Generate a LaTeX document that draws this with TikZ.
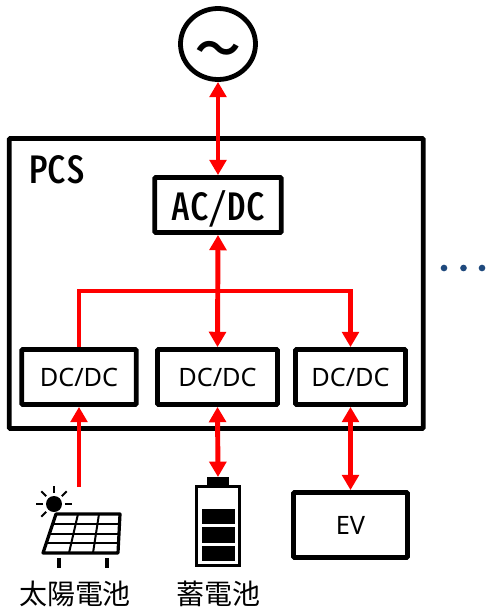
\documentclass[tikz,border=0pt]{standalone}
\usepackage{fontspec}
\setmainfont{Noto Sans}
\newfontfamily\cjkfont{Noto Sans CJK JP}
\newfontfamily\tildefont{Noto Sans CJK JP Bold}
\newfontfamily\gothfont[RawFeature=+hwid]{Noto Sans CJK JP Medium}
\usetikzlibrary{arrows.meta,shapes.geometric}
\definecolor{dotblue}{RGB}{31,73,125}
\tikzset{
  unitbox/.style={draw,line width=3.6pt,rounded corners=.8pt,inner sep=0pt,minimum height=41.25pt},
  redline/.style={draw=red,line width=3.7pt},
  redarrow/.style={redline,{Triangle[width=12.5pt,length=11.5pt]}-{Triangle[width=12.5pt,length=11.5pt]}},
  redtip/.style={redline,-{Triangle[width=12.5pt,length=11.5pt]}}
}
\begin{document}
\begin{tikzpicture}
  [x=.75pt,y=-.75pt]
  \useasboundingbox (0,0) rectangle (488,607);
  \node[unitbox,minimum width=310.5pt,minimum height=217.5pt] (pcs) at (216.3,283.5) {};
  \node[font=\gothfont\fontsize{28}{30}\selectfont] (pcslabel) at (57,170) {PCS};
  \node[draw,ellipse,line width=3.6pt,minimum width=56.25pt,minimum height=53.25pt,inner sep=0pt,font=\tildefont\fontsize{34}{36}\selectfont] (grid) at (218,44) {\raisebox{-16pt}[0pt][0pt]{～}};
  \node[unitbox,minimum width=95pt,font=\gothfont\fontsize{28}{30}\selectfont] (acdc) at (218,205) {\raisebox{-11.5pt}[0pt][0pt]{AC/DC}};
  \node[unitbox,minimum width=86pt,font=\fontsize{19}{22}\selectfont] (dc1) at (79,377) {DC/DC};
  \node[unitbox,minimum width=90pt,font=\fontsize{19}{22}\selectfont] (dc2) at (217.5,377) {DC/DC};
  \node[unitbox,minimum width=82.5pt,font=\fontsize{19}{22}\selectfont] (dc3) at (350.5,377) {DC/DC};
  \node[unitbox,minimum width=85.5pt,minimum height=48.75pt,font=\fontsize{19}{22}\selectfont] (ev) at (350.5,525) {EV};
  \node[font=\cjkfont\fontsize{21}{24}\selectfont] (pv) at (75,594) {太陽電池};
  \node[font=\cjkfont\fontsize{21}{24}\selectfont] (bat) at (218,594) {蓄電池};
  \coordinate (pvtop) at (79,487);
  \coordinate (battop) at (218,477);
  % connectors
  \draw[redarrow] (grid.south) -- (acdc.north);
  \draw[redarrow] (acdc.south) -- (dc2.north);
  \draw[redtip] (dc1.north) |- (218,291) -| (dc3.north);
  \draw[redtip] (pvtop) -- (dc1.south);
  \draw[redarrow] (battop) -- (dc2.south);
  \draw[redarrow] (ev.north) -- (dc3.south);
  % dots
  \foreach \x in {444,463.5,482}
    \fill[dotblue] (\x,268) circle (2.5pt);
  % solar panel
  \fill (54,504) circle (6pt);
  \foreach \a in {0,45,90,135,180,225}
    \draw[line width=1.5pt] (54,504) ++(-\a:11) -- ++(-\a:7);
  \draw[line width=2.4pt,line join=round,fill=white] (56,514) -- (120,514) -- (118,553) -- (43,553) -- cycle;
  \foreach \t in {.25,.5,.75}
    \draw[line width=1.5pt] ({56-13*\t},{514+39*\t}) -- ({120-2*\t},{514+39*\t});
  \foreach \a/\b in {78/69,99/93}
    \draw[line width=1.5pt] (\a,514) -- (\b,553);
  \draw[line width=3pt] (59,558) -- (59,568);
  \draw[line width=3pt] (107,558) -- (107,568);
  % battery
  \fill (207,477) rectangle (229,485);
  \draw[line width=2.3pt] (196.5,486.5) rectangle (239.5,565.5);
  \foreach \y/\z in {509/524,527/543,546/561}
    \fill (202,\y) rectangle (235,\z);
\end{tikzpicture}
\end{document}
